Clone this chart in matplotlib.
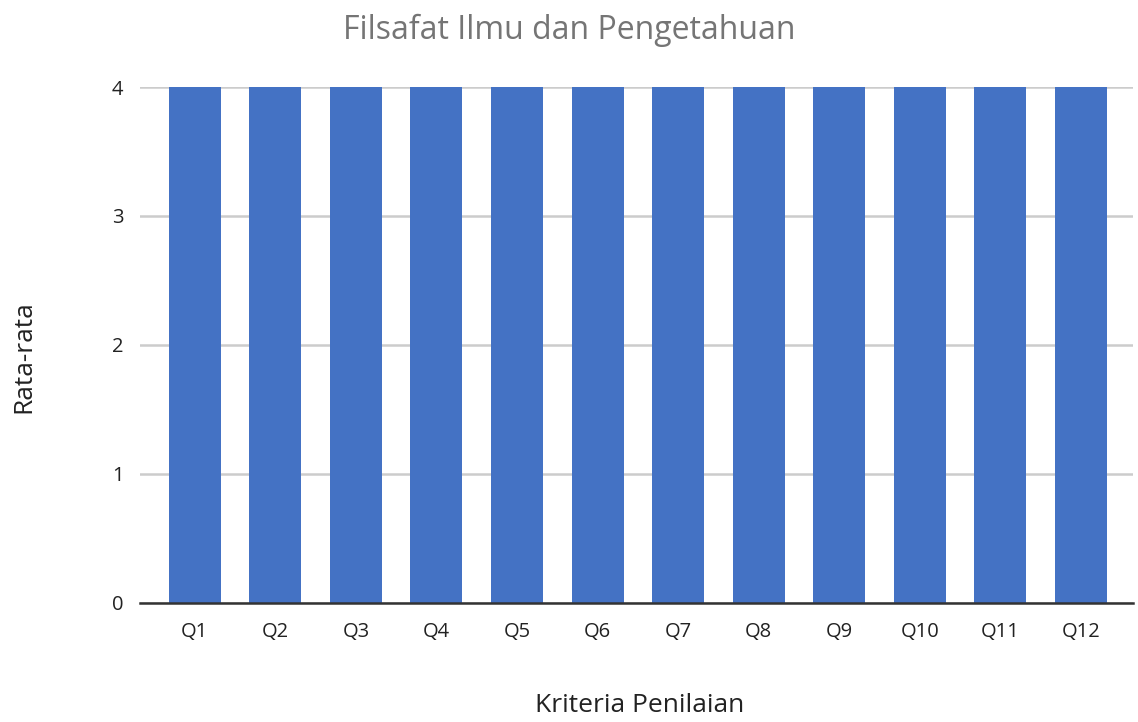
import numpy as np
from matplotlib import pyplot as plt

categories = ["Q1", "Q2", "Q3", "Q4", "Q5", "Q6", "Q7", "Q8", "Q9", "Q10", "Q11", "Q12"]
values = [4, 4, 4, 4, 4, 4, 4, 4, 4, 4, 4, 4]
yticks = [0, 1, 2, 3, 4]

plt.rcParams['font.family'] = ['Open Sans', 'DejaVu Sans']

fig = plt.figure(figsize=(11.38, 7.22), dpi=100)
ax = fig.add_axes([0.123, 0.165, 0.8725, 0.7145])

x = np.arange(len(categories))
ax.bar(x, values, width=0.645, color="#4472C4", zorder=3)

ax.set_xlim(-0.68, len(categories) - 0.355)
ax.set_ylim(0, 4)
ax.set_yticks(yticks)
ax.set_xticks(x)
ax.set_xticklabels(categories)
ax.tick_params(axis="both", length=0, labelsize=14.5, colors="#222222")
ax.tick_params(axis="x", pad=14)
ax.tick_params(axis="y", pad=12)

ax.grid(axis="y", color="#cccccc", linewidth=1.8, zorder=0)
for s in ["top", "right", "left"]:
    ax.spines[s].set_visible(False)
ax.spines["bottom"].set_color("#333333")
ax.spines["bottom"].set_linewidth(1.8)
ax.spines["bottom"].set_zorder(4)

fig.text(0.5, 0.958, "Filsafat Ilmu dan Pengetahuan", ha="center", va="center",
         fontsize=23, color="#757575")
fig.text(0.562, 0.023, "Kriteria Penilaian", ha="center", va="center",
         fontsize=19, color="#222222")
fig.text(0.021, 0.506, "Rata-rata", ha="center", va="center", rotation=90,
         fontsize=19, color="#222222")

fig.savefig("out.png", dpi=100)
